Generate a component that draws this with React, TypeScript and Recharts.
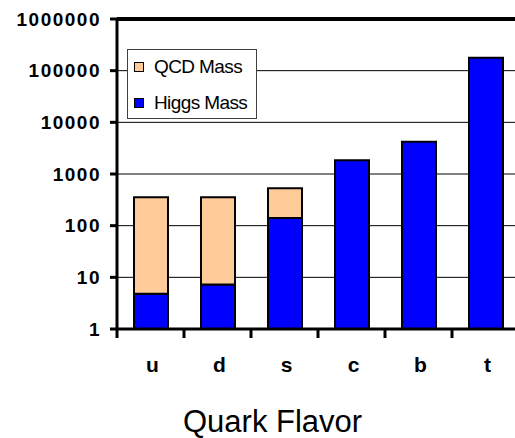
import { BarChart, Bar, XAxis, YAxis, CartesianGrid, ReferenceLine } from "recharts"

const flavors = ["u", "d", "s", "c", "b", "t"]
const higgsMass = [4.8, 7.3, 140, 1840, 4200, 178000]
const qcdMass = [350, 347, 390, 0, 0, 0]
const yTicks = [1, 10, 100, 1000, 10000, 100000, 1000000]

const data = flavors.map((f, i) => ({ flavor: f, higgs: higgsMass[i], qcd: qcdMass[i] }))

const font = "'Liberation Sans', Arial, sans-serif"

const XTick = (props: any) => {
    const { x, y, payload } = props
    const off = payload?.offset ?? 33.5
    return (
        <g>
            <line x1={x - off} x2={x - off} y1={y} y2={y + 9} stroke="#000" strokeWidth={3} />
            <text x={x + 2} y={y + 43} textAnchor="middle" fill="#000" fontSize={21} fontWeight={700} fontFamily={font}>
                {payload.value}
            </text>
        </g>
    )
}

const legendItems = [
    { label: "QCD Mass", color: "#FFCC99" },
    { label: "Higgs Mass", color: "#0000FF" },
]

export default function App() {
    return (
        <div style={{ position: "relative", width: 515, height: 438, overflow: "hidden", fontFamily: font }}>
            <style>{"body{margin:0}"}</style>
            <BarChart
                width={522}
                height={438}
                data={data}
                margin={{ top: 19, right: 3, bottom: 0, left: 0 }}
            >
                <CartesianGrid vertical={false} stroke="#000" strokeWidth={1} />
                <XAxis
                    dataKey="flavor"
                    height={109}
                    tickSize={0}
                    tickMargin={0}
                    axisLine={{ stroke: "#000", strokeWidth: 3 }}
                    tickLine={false}
                    tick={<XTick />}
                    interval={0}
                />
                <YAxis
                    scale="log"
                    type="number"
                    domain={[1, 1000000]}
                    ticks={yTicks}
                    allowDataOverflow
                    width={117}
                    tickSize={7}
                    tickMargin={9}
                    axisLine={{ stroke: "#000", strokeWidth: 3 }}
                    tickLine={{ stroke: "#000", strokeWidth: 3 }}
                    tick={{ fill: "#000", fontSize: 19, fontWeight: 700, fontFamily: font, letterSpacing: 1.5 }}
                />
                <ReferenceLine y={1000000} stroke="#000" strokeWidth={4} />
                <Bar dataKey="higgs" stackId="m" fill="#0000FF" stroke="#000" strokeWidth={2} barSize={34} isAnimationActive={false} />
                <Bar dataKey="qcd" stackId="m" fill="#FFCC99" stroke="#000" strokeWidth={2} barSize={34} isAnimationActive={false} />
            </BarChart>
            <div
                style={{
                    position: "absolute",
                    left: 127,
                    top: 49,
                    width: 128,
                    height: 68,
                    background: "#fff",
                    border: "1px solid #404040",
                }}
            >
                {legendItems.map((it, i) => (
                    <div
                        key={it.label}
                        style={{
                            position: "absolute",
                            left: 6,
                            top: 6 + i * 36,
                            height: 22,
                            display: "flex",
                            alignItems: "center",
                            whiteSpace: "nowrap",
                        }}
                    >
                        <span style={{ width: 8, height: 8, background: it.color, border: "1px solid #000", marginRight: 10 }} />
                        <span style={{ fontSize: 19, letterSpacing: -0.6, color: "#000" }}>{it.label}</span>
                    </div>
                ))}
            </div>
            <div
                style={{
                    position: "absolute",
                    left: 183,
                    top: 409,
                    fontSize: 31,
                    lineHeight: "26px",
                    color: "#000",
                    whiteSpace: "nowrap",
                }}
            >
                Quark Flavor
            </div>
        </div>
    )
}
